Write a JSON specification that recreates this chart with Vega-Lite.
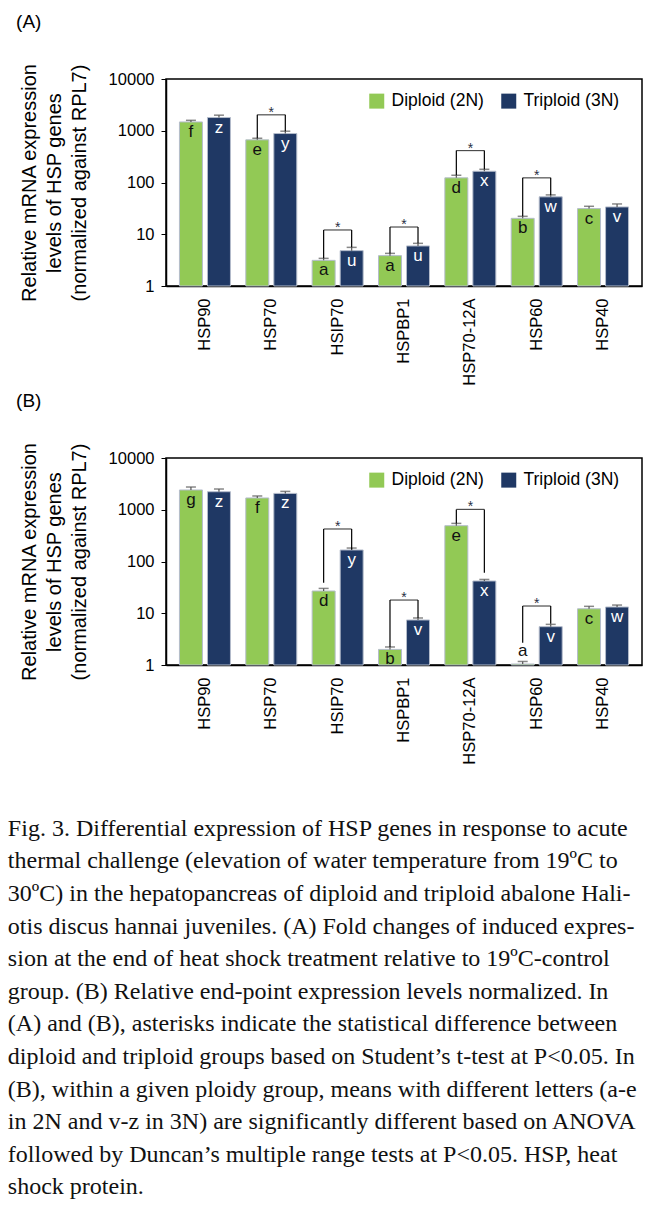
{
  "$schema": "https://vega.github.io/schema/vega-lite/v6.json",
  "padding": {"left": 7, "top": 12, "right": 0, "bottom": 5},
  "background": "white",
  "config": {
    "font": "Liberation Sans",
    "view": {"stroke": "black", "strokeWidth": 1.5},
    "axis": {"labelFont": "Liberation Sans", "titleFont": "Liberation Sans", "labelColor": "black", "titleColor": "black", "domainColor": "black", "tickColor": "black", "grid": false, "domainWidth": 1.5},
    "title": {"font": "Liberation Sans", "fontWeight": "normal", "color": "black"}
  },
  "datasets": {
    "barsA": [
      {"gene": "HSP90", "ploidy": "Diploid (2N)", "mean": 1480, "upper": 1590, "letter": "f"},
      {"gene": "HSP90", "ploidy": "Triploid (3N)", "mean": 1800, "upper": 2000, "letter": "z"},
      {"gene": "HSP70", "ploidy": "Diploid (2N)", "mean": 667, "upper": 716, "letter": "e"},
      {"gene": "HSP70", "ploidy": "Triploid (3N)", "mean": 883, "upper": 980, "letter": "y"},
      {"gene": "HSIP70", "ploidy": "Diploid (2N)", "mean": 3.13, "upper": 3.42, "letter": "a"},
      {"gene": "HSIP70", "ploidy": "Triploid (3N)", "mean": 4.82, "upper": 5.58, "letter": "u"},
      {"gene": "HSPBP1", "ploidy": "Diploid (2N)", "mean": 3.86, "upper": 4.27, "letter": "a"},
      {"gene": "HSPBP1", "ploidy": "Triploid (3N)", "mean": 5.94, "upper": 6.67, "letter": "u"},
      {"gene": "HSP70-12A", "ploidy": "Diploid (2N)", "mean": 123, "upper": 138, "letter": "d"},
      {"gene": "HSP70-12A", "ploidy": "Triploid (3N)", "mean": 165, "upper": 180, "letter": "x"},
      {"gene": "HSP60", "ploidy": "Diploid (2N)", "mean": 20.3, "upper": 22.2, "letter": "b"},
      {"gene": "HSP60", "ploidy": "Triploid (3N)", "mean": 52.8, "upper": 57.6, "letter": "w"},
      {"gene": "HSP40", "ploidy": "Diploid (2N)", "mean": 31.3, "upper": 34.7, "letter": "c"},
      {"gene": "HSP40", "ploidy": "Triploid (3N)", "mean": 33.7, "upper": 38.5, "letter": "v"}
    ],
    "barsB": [
      {"gene": "HSP90", "ploidy": "Diploid (2N)", "mean": 2410, "upper": 2750, "letter": "g"},
      {"gene": "HSP90", "ploidy": "Triploid (3N)", "mean": 2230, "upper": 2515, "letter": "z"},
      {"gene": "HSP70", "ploidy": "Diploid (2N)", "mean": 1690, "upper": 1845, "letter": "f"},
      {"gene": "HSP70", "ploidy": "Triploid (3N)", "mean": 2070, "upper": 2264, "letter": "z"},
      {"gene": "HSIP70", "ploidy": "Diploid (2N)", "mean": 26.9, "upper": 30.2, "letter": "d"},
      {"gene": "HSIP70", "ploidy": "Triploid (3N)", "mean": 167, "upper": 182, "letter": "y"},
      {"gene": "HSPBP1", "ploidy": "Diploid (2N)", "mean": 2.0, "upper": 2.23, "letter": "b"},
      {"gene": "HSPBP1", "ploidy": "Triploid (3N)", "mean": 7.41, "upper": 8.1, "letter": "v"},
      {"gene": "HSP70-12A", "ploidy": "Diploid (2N)", "mean": 492, "upper": 545, "letter": "e"},
      {"gene": "HSP70-12A", "ploidy": "Triploid (3N)", "mean": 42, "upper": 45, "letter": "x"},
      {"gene": "HSP60", "ploidy": "Diploid (2N)", "mean": 1.045, "upper": 1.17, "letter": "a"},
      {"gene": "HSP60", "ploidy": "Triploid (3N)", "mean": 5.5, "upper": 6.1, "letter": "v"},
      {"gene": "HSP40", "ploidy": "Diploid (2N)", "mean": 12.2, "upper": 13.6, "letter": "c"},
      {"gene": "HSP40", "ploidy": "Triploid (3N)", "mean": 13.2, "upper": 14.4, "letter": "w"}
    ],
    "legsA": [
      {"gene": "HSP70", "ploidy": "Diploid (2N)", "lo": 716, "top": 2032},
      {"gene": "HSP70", "ploidy": "Triploid (3N)", "lo": 980, "top": 2032},
      {"gene": "HSIP70", "ploidy": "Diploid (2N)", "lo": 3.42, "top": 12.1},
      {"gene": "HSIP70", "ploidy": "Triploid (3N)", "lo": 5.58, "top": 12.1},
      {"gene": "HSPBP1", "ploidy": "Diploid (2N)", "lo": 4.27, "top": 13.8},
      {"gene": "HSPBP1", "ploidy": "Triploid (3N)", "lo": 6.67, "top": 13.8},
      {"gene": "HSP70-12A", "ploidy": "Diploid (2N)", "lo": 138, "top": 414},
      {"gene": "HSP70-12A", "ploidy": "Triploid (3N)", "lo": 180, "top": 414},
      {"gene": "HSP60", "ploidy": "Diploid (2N)", "lo": 22.2, "top": 123},
      {"gene": "HSP60", "ploidy": "Triploid (3N)", "lo": 57.6, "top": 123}
    ],
    "legsB": [
      {"gene": "HSIP70", "ploidy": "Diploid (2N)", "lo": 38.9, "top": 425},
      {"gene": "HSIP70", "ploidy": "Triploid (3N)", "lo": 170, "top": 425},
      {"gene": "HSPBP1", "ploidy": "Diploid (2N)", "lo": 2.23, "top": 18.0},
      {"gene": "HSPBP1", "ploidy": "Triploid (3N)", "lo": 8.1, "top": 18.0},
      {"gene": "HSP70-12A", "ploidy": "Diploid (2N)", "lo": 545, "top": 1016},
      {"gene": "HSP70-12A", "ploidy": "Triploid (3N)", "lo": 60.8, "top": 1016},
      {"gene": "HSP60", "ploidy": "Diploid (2N)", "lo": 2.7, "top": 13.8},
      {"gene": "HSP60", "ploidy": "Triploid (3N)", "lo": 6.28, "top": 13.8}
    ]
  },
  "title": {
    "text": [
      "Fig. 3. Differential expression of HSP genes in response to acute",
      "thermal challenge (elevation of water temperature from 19ºC to",
      "30ºC) in the hepatopancreas of diploid and triploid abalone Hali-",
      "otis discus hannai juveniles. (A) Fold changes of induced expres-",
      "sion at the end of heat shock treatment relative to 19ºC-control",
      "group. (B) Relative end-point expression levels normalized. In",
      "(A) and (B), asterisks indicate the statistical difference between",
      "diploid and triploid groups based on Student’s t-test at P<0.05. In",
      "(B), within a given ploidy group, means with different letters (a-e",
      "in 2N and v-z in 3N) are significantly different based on ANOVA",
      "followed by Duncan’s multiple range tests at P<0.05. HSP, heat",
      "shock protein."
    ],
    "orient": "bottom",
    "anchor": "start",
    "frame": "bounds",
    "font": "Liberation Serif",
    "fontSize": 24,
    "fontWeight": "normal",
    "lineHeight": 32.6,
    "offset": 52,
    "dx": -7.5,
    "color": "#111111"
  },
  "spacing": 5,
  "resolve": {"legend": {"color": "independent"}},
  "vconcat": [
    {
      "title": {"text": "(A)", "anchor": "start", "fontSize": 19, "offset": 31, "dx": -3.5},
      "width": 476,
      "height": 207,
      "layer": [
        {
          "data": {"name": "barsA"},
          "mark": {"type": "bar", "stroke": "#b4bccb", "strokeWidth": 1},
          "encoding": {
            "x": {"field": "gene", "type": "nominal", "sort": ["HSP90", "HSP70", "HSIP70", "HSPBP1", "HSP70-12A", "HSP60", "HSP40"], "scale": {"paddingInner": 0, "paddingOuter": 0.087}, "title": null, "axis": {"labelAngle": -90, "labelFontSize": 16.5, "ticks": false, "labelPadding": 12}},
            "xOffset": {"field": "ploidy", "type": "nominal", "sort": ["Diploid (2N)", "Triploid (3N)"], "scale": {"paddingInner": 0.18, "paddingOuter": 0.274}},
            "y": {"field": "mean", "type": "quantitative", "scale": {"type": "log", "domain": [1, 10000]}, "axis": {"values": [1, 10, 100, 1000, 10000], "format": "d", "labelFontSize": 16.5, "tickSize": 5, "labelPadding": 7, "title": ["Relative mRNA expression", "levels of HSP genes", "(normalized against RPL7)"], "titleFontSize": 20, "titleFontWeight": "normal", "titleLineHeight": 25, "titlePadding": 18.5}},
            "y2": {"datum": 1},
            "color": {"field": "ploidy", "type": "nominal", "scale": {"domain": ["Diploid (2N)", "Triploid (3N)"], "range": ["#92C955", "#1F3864"]}, "legend": {"orient": "none", "legendX": 202, "legendY": 13, "direction": "horizontal", "title": null, "symbolType": "square", "symbolSize": 225, "symbolStrokeWidth": 0, "labelFontSize": 17.5, "labelOffset": 6, "columnPadding": 16, "labelColor": "black", "padding": 0}}
          }
        },
        {
          "data": {"name": "barsA"},
          "mark": {"type": "rule", "color": "#555555", "strokeWidth": 1.2},
          "encoding": {"x": {"field": "gene", "type": "nominal", "sort": ["HSP90", "HSP70", "HSIP70", "HSPBP1", "HSP70-12A", "HSP60", "HSP40"]}, "xOffset": {"field": "ploidy", "type": "nominal"}, "y": {"field": "mean", "type": "quantitative"}, "y2": {"field": "upper"}}
        },
        {
          "data": {"name": "barsA"},
          "mark": {"type": "tick", "color": "#555555", "thickness": 1.5, "size": 10},
          "encoding": {"x": {"field": "gene", "type": "nominal", "sort": ["HSP90", "HSP70", "HSIP70", "HSPBP1", "HSP70-12A", "HSP60", "HSP40"]}, "xOffset": {"field": "ploidy", "type": "nominal"}, "y": {"field": "upper", "type": "quantitative"}}
        },
        {
          "data": {"name": "legsA"},
          "mark": {"type": "rule", "color": "black", "strokeWidth": 1.2},
          "encoding": {"x": {"field": "gene", "type": "nominal", "sort": ["HSP90", "HSP70", "HSIP70", "HSPBP1", "HSP70-12A", "HSP60", "HSP40"]}, "xOffset": {"field": "ploidy", "type": "nominal"}, "y": {"field": "lo", "type": "quantitative"}, "y2": {"field": "top"}}
        },
        {
          "data": {"name": "legsA"},
          "transform": [{"filter": "datum.ploidy === 'Diploid (2N)'"}],
          "mark": {"type": "tick", "color": "black", "thickness": 1.2, "size": 28},
          "encoding": {"x": {"field": "gene", "type": "nominal", "sort": ["HSP90", "HSP70", "HSIP70", "HSPBP1", "HSP70-12A", "HSP60", "HSP40"]}, "y": {"field": "top", "type": "quantitative"}}
        },
        {
          "data": {"name": "legsA"},
          "transform": [{"filter": "datum.ploidy === 'Diploid (2N)'"}],
          "mark": {"type": "text", "text": "*", "fontSize": 14, "color": "#2a2f45", "baseline": "alphabetic", "dy": 2},
          "encoding": {"x": {"field": "gene", "type": "nominal", "sort": ["HSP90", "HSP70", "HSIP70", "HSPBP1", "HSP70-12A", "HSP60", "HSP40"]}, "y": {"field": "top", "type": "quantitative"}}
        },
        {
          "data": {"name": "barsA"},
          "mark": {"type": "text", "fontSize": 17, "baseline": "middle", "dy": 10},
          "encoding": {"x": {"field": "gene", "type": "nominal", "sort": ["HSP90", "HSP70", "HSIP70", "HSPBP1", "HSP70-12A", "HSP60", "HSP40"]}, "xOffset": {"field": "ploidy", "type": "nominal"}, "y": {"field": "mean", "type": "quantitative"}, "text": {"field": "letter"}, "color": {"condition": {"test": "datum.ploidy === 'Diploid (2N)'", "value": "#111111"}, "value": "white"}}
        }
      ]
    },
    {
      "title": {"text": "(B)", "anchor": "start", "fontSize": 19, "offset": 31, "dx": -3.5},
      "width": 476,
      "height": 207,
      "layer": [
        {
          "data": {"name": "barsB"},
          "mark": {"type": "bar", "stroke": "#b4bccb", "strokeWidth": 1},
          "encoding": {
            "x": {"field": "gene", "type": "nominal", "sort": ["HSP90", "HSP70", "HSIP70", "HSPBP1", "HSP70-12A", "HSP60", "HSP40"], "scale": {"paddingInner": 0, "paddingOuter": 0.087}, "title": null, "axis": {"labelAngle": -90, "labelFontSize": 16.5, "ticks": false, "labelPadding": 12}},
            "xOffset": {"field": "ploidy", "type": "nominal", "sort": ["Diploid (2N)", "Triploid (3N)"], "scale": {"paddingInner": 0.18, "paddingOuter": 0.274}},
            "y": {"field": "mean", "type": "quantitative", "scale": {"type": "log", "domain": [1, 10000]}, "axis": {"values": [1, 10, 100, 1000, 10000], "format": "d", "labelFontSize": 16.5, "tickSize": 5, "labelPadding": 7, "title": ["Relative mRNA expression", "levels of HSP genes", "(normalized against RPL7)"], "titleFontSize": 20, "titleFontWeight": "normal", "titleLineHeight": 25, "titlePadding": 18.5}},
            "y2": {"datum": 1},
            "color": {"field": "ploidy", "type": "nominal", "scale": {"domain": ["Diploid (2N)", "Triploid (3N)"], "range": ["#92C955", "#1F3864"]}, "legend": {"orient": "none", "legendX": 202, "legendY": 13, "direction": "horizontal", "title": null, "symbolType": "square", "symbolSize": 225, "symbolStrokeWidth": 0, "labelFontSize": 17.5, "labelOffset": 6, "columnPadding": 16, "labelColor": "black", "padding": 0}}
          }
        },
        {
          "data": {"name": "barsB"},
          "mark": {"type": "rule", "color": "#555555", "strokeWidth": 1.2},
          "encoding": {"x": {"field": "gene", "type": "nominal", "sort": ["HSP90", "HSP70", "HSIP70", "HSPBP1", "HSP70-12A", "HSP60", "HSP40"]}, "xOffset": {"field": "ploidy", "type": "nominal"}, "y": {"field": "mean", "type": "quantitative"}, "y2": {"field": "upper"}}
        },
        {
          "data": {"name": "barsB"},
          "mark": {"type": "tick", "color": "#555555", "thickness": 1.5, "size": 10},
          "encoding": {"x": {"field": "gene", "type": "nominal", "sort": ["HSP90", "HSP70", "HSIP70", "HSPBP1", "HSP70-12A", "HSP60", "HSP40"]}, "xOffset": {"field": "ploidy", "type": "nominal"}, "y": {"field": "upper", "type": "quantitative"}}
        },
        {
          "data": {"name": "legsB"},
          "mark": {"type": "rule", "color": "black", "strokeWidth": 1.2},
          "encoding": {"x": {"field": "gene", "type": "nominal", "sort": ["HSP90", "HSP70", "HSIP70", "HSPBP1", "HSP70-12A", "HSP60", "HSP40"]}, "xOffset": {"field": "ploidy", "type": "nominal"}, "y": {"field": "lo", "type": "quantitative"}, "y2": {"field": "top"}}
        },
        {
          "data": {"name": "legsB"},
          "transform": [{"filter": "datum.ploidy === 'Diploid (2N)'"}],
          "mark": {"type": "tick", "color": "black", "thickness": 1.2, "size": 28},
          "encoding": {"x": {"field": "gene", "type": "nominal", "sort": ["HSP90", "HSP70", "HSIP70", "HSPBP1", "HSP70-12A", "HSP60", "HSP40"]}, "y": {"field": "top", "type": "quantitative"}}
        },
        {
          "data": {"name": "legsB"},
          "transform": [{"filter": "datum.ploidy === 'Diploid (2N)'"}],
          "mark": {"type": "text", "text": "*", "fontSize": 14, "color": "#2a2f45", "baseline": "alphabetic", "dy": 2},
          "encoding": {"x": {"field": "gene", "type": "nominal", "sort": ["HSP90", "HSP70", "HSIP70", "HSPBP1", "HSP70-12A", "HSP60", "HSP40"]}, "y": {"field": "top", "type": "quantitative"}}
        },
        {
          "data": {"name": "barsB"},
          "transform": [{"filter": "datum.mean > 1.5"}],
          "mark": {"type": "text", "fontSize": 17, "baseline": "middle", "dy": 10},
          "encoding": {"x": {"field": "gene", "type": "nominal", "sort": ["HSP90", "HSP70", "HSIP70", "HSPBP1", "HSP70-12A", "HSP60", "HSP40"]}, "xOffset": {"field": "ploidy", "type": "nominal"}, "y": {"field": "mean", "type": "quantitative"}, "text": {"field": "letter"}, "color": {"condition": {"test": "datum.ploidy === 'Diploid (2N)'", "value": "#111111"}, "value": "white"}}
        },
        {
          "data": {"name": "barsB"},
          "transform": [{"filter": "datum.mean <= 1.5"}],
          "mark": {"type": "text", "fontSize": 17, "baseline": "middle", "dy": -13, "color": "#111111"},
          "encoding": {"x": {"field": "gene", "type": "nominal", "sort": ["HSP90", "HSP70", "HSIP70", "HSPBP1", "HSP70-12A", "HSP60", "HSP40"]}, "xOffset": {"field": "ploidy", "type": "nominal"}, "y": {"field": "mean", "type": "quantitative"}, "text": {"field": "letter"}}
        }
      ]
    }
  ]
}
